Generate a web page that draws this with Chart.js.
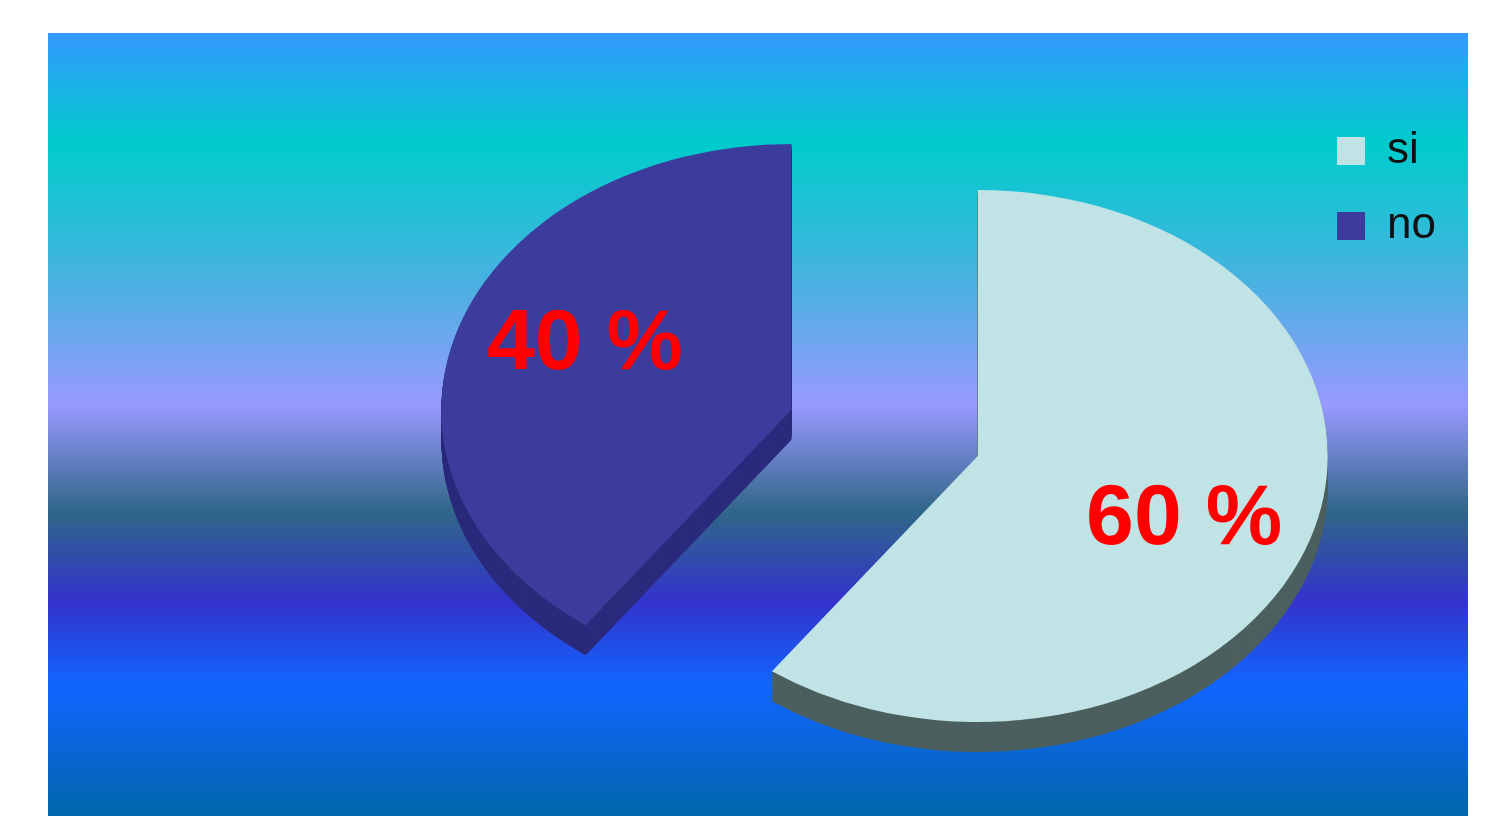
<!DOCTYPE html>
<html><head><meta charset="utf-8">
<script src="https://cdn.jsdelivr.net/npm/chart.js@4"></script>
<style>html,body{margin:0;padding:0;background:#fff;}#wrap{width:1504px;height:816px;}</style>
</head><body><div id="wrap"><canvas id="c" width="1504" height="816"></canvas></div>
<script>
// ---- data ----
const categories = ['si', 'no'];
const values = [60, 40];
const labelSuffix = ' %';
// ---- styles ----
const sliceColors = ['#c0e3e6', '#3c3c9c'];
const sideColors = ['#4c5f5f', '#2a2a7c'];
const explode = 98;      // px, radial explosion of each slice
const depth = 30;        // px, thickness of the 3D pie
const tilt = 0.76;       // vertical squash of the pie
const labelFrac = 0.62;  // label distance as fraction of radius
const labelTilt = 0.9;   // vertical factor used for label placement

function applyTilt(ctx, cx, cy) {
  ctx.translate(cx, cy); ctx.scale(1, tilt); ctx.translate(-cx, -cy);
}

const bgPlugin = {
  id: 'bgPanel',
  beforeDraw(chart) {
    const ctx = chart.ctx;
    const x0 = 48, y0 = 33, x1 = 1468, y1 = 816;
    const g = ctx.createLinearGradient(0, y0, 0, y1);
    const H = y1 - y0;
    const st = (y, c) => g.addColorStop((y - y0) / H, c);
    st(33, '#3399ff');
    st(145, '#00cccc');
    st(290, '#4db0e2');
    st(405, '#9999ff');
    st(512, '#2f6688');
    st(602, '#3333cc');
    st(685, '#1166ff');
    st(816, '#0066aa');
    ctx.save();
    ctx.fillStyle = g;
    ctx.fillRect(x0, y0, x1 - x0, y1 - y0);
    ctx.restore();
  }
};

const pie3dPlugin = {
  id: 'pie3d',
  beforeDatasetsDraw(chart) {
    const ctx = chart.ctx;
    const arcs = chart.getDatasetMeta(0).data;
    const shifted = (arc, color) => Object.assign(Object.create(arc), {
      options: Object.assign({}, arc.options, {backgroundColor: color, borderWidth: 0})
    });
    // side walls
    arcs.forEach((arc, i) => {
      const mid = (arc.startAngle + arc.endAngle) / 2;
      const dx = Math.cos(mid) * explode, dy = Math.sin(mid) * explode;
      const el = shifted(arc, sideColors[i]);
      for (let d = depth; d > 0; d--) {
        ctx.save();
        ctx.translate(0, d);
        applyTilt(ctx, arc.x, arc.y);
        ctx.translate(dx, dy);
        el.draw(ctx);
        ctx.restore();
      }
    });
    // top faces
    arcs.forEach((arc, i) => {
      const mid = (arc.startAngle + arc.endAngle) / 2;
      const dx = Math.cos(mid) * explode, dy = Math.sin(mid) * explode;
      ctx.save();
      applyTilt(ctx, arc.x, arc.y);
      ctx.translate(dx, dy);
      shifted(arc, arc.options.backgroundColor).draw(ctx);
      ctx.restore();
    });
    return false;
  },
  afterDraw(chart) {
    const ctx = chart.ctx;
    const arcs = chart.getDatasetMeta(0).data;
    ctx.save();
    ctx.font = 'bold 86px "Liberation Sans", Arial, sans-serif';
    ctx.fillStyle = '#ff0000';
    ctx.textAlign = 'center';
    ctx.textBaseline = 'middle';
    arcs.forEach((arc, i) => {
      const mid = (arc.startAngle + arc.endAngle) / 2;
      const r = explode + labelFrac * arc.outerRadius;
      const px = arc.x + Math.cos(mid) * r;
      const py = arc.y + Math.sin(mid) * r * labelTilt;
      ctx.fillText(values[i] + labelSuffix, px, py);
    });
    ctx.restore();
  }
};

new Chart(document.getElementById('c'), {
  type: 'pie',
  data: {
    labels: categories,
    datasets: [{
      data: values,
      backgroundColor: sliceColors,
      borderWidth: 0,
      radius: 350
    }]
  },
  options: {
    responsive: false,
    animation: false,
    layout: { padding: { left: 463, right: 58, top: 98, bottom: 48 } },
    plugins: {
      legend: {
        position: 'right',
        align: 'start',
        labels: {
          boxWidth: 28,
          boxHeight: 28,
          padding: 31,
          color: '#111111',
          font: { family: '"Liberation Sans", Arial, sans-serif', size: 44 }
        }
      },
      tooltip: { enabled: false }
    }
  },
  plugins: [bgPlugin, pie3dPlugin]
});
</script>
</body></html>
